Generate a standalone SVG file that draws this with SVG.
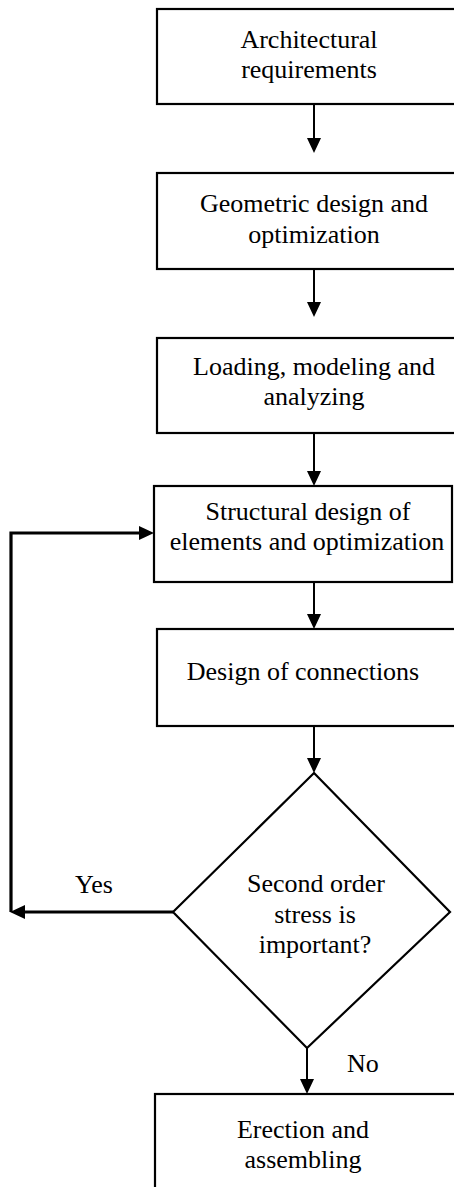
<svg xmlns="http://www.w3.org/2000/svg" width="454" height="1187" viewBox="0 0 454 1187">
<defs>
<marker id="ah" markerWidth="8" markerHeight="8" viewBox="0 0 16 14" refX="16" refY="7" orient="auto" markerUnits="userSpaceOnUse">
<path d="M0,0 L16,7 L0,14 Z" fill="#000"/>
</marker>
<style>
.box{fill:#fff;stroke:#000;stroke-width:2.2}
.t{font-family:"Liberation Serif","Times New Roman",serif;font-size:26px;fill:#000;text-anchor:middle}
.l{font-family:"Liberation Serif","Times New Roman",serif;font-size:26px;fill:#000}
.c{fill:none;stroke:#000;stroke-width:2}
.fb{fill:none;stroke:#000;stroke-width:3.2}
</style>
</defs>
<rect width="454" height="1187" fill="#fff"/>
<g id="connectors">
<line class="c" x1="314" y1="104" x2="314" y2="138"/>
<path d="M307,138 L321,138 L314,153 Z"/>
<line class="c" x1="314" y1="269" x2="314" y2="302"/>
<path d="M307,302 L321,302 L314,317 Z"/>
<line class="c" x1="314" y1="433" x2="314" y2="471"/>
<path d="M307,471 L321,471 L314,486 Z"/>
<line class="c" x1="314" y1="582" x2="314" y2="614"/>
<path d="M307,614 L321,614 L314,629 Z"/>
<line class="c" x1="314" y1="726" x2="314" y2="758"/>
<path d="M307,758 L321,758 L314,773 Z"/>
<line class="c" x1="307" y1="1048" x2="307" y2="1079"/>
<path d="M300,1079 L314,1079 L307,1094 Z"/>
<polyline class="fb" points="173,912 25,912"/>
<path d="M25,905 L25,919 L10,912 Z"/>
<polyline class="fb" points="11,912 11,533 139,533"/>
<path d="M139,526 L139,540 L154,533 Z"/>
<text class="l" x="75" y="893">Yes</text>
<text class="l" x="347" y="1072">No</text>
</g>
<g id="n1">
<rect class="box" x="157" y="9" width="320" height="95"/>
<text class="t" x="309" y="48">Architectural</text>
<text class="t" x="309" y="78">requirements</text>
</g>
<g id="n2">
<rect class="box" x="157" y="173" width="320" height="96"/>
<text class="t" x="314" y="212">Geometric design and</text>
<text class="t" x="314" y="243">optimization</text>
</g>
<g id="n3">
<rect class="box" x="157" y="338" width="320" height="95"/>
<text class="t" x="314" y="375">Loading, modeling and</text>
<text class="t" x="314" y="405">analyzing</text>
</g>
<g id="n4">
<rect class="box" x="154" y="486" width="298" height="96"/>
<text class="t" x="308" y="520">Structural design of</text>
<text class="t" x="307" y="550">elements and optimization</text>
</g>
<g id="n5">
<rect class="box" x="157" y="629" width="320" height="97"/>
<text class="t" x="303" y="680">Design of connections</text>
</g>
<g id="n6">
<polygon class="box" points="314,773 450,912 307,1048 173,912"/>
<text class="t" x="316" y="892">Second order</text>
<text class="t" x="315" y="923">stress is</text>
<text class="t" x="315" y="953">important?</text>
</g>
<g id="n7">
<rect class="box" x="155" y="1094" width="320" height="120"/>
<text class="t" x="303" y="1138">Erection and</text>
<text class="t" x="303" y="1168">assembling</text>
</g>
</svg>
